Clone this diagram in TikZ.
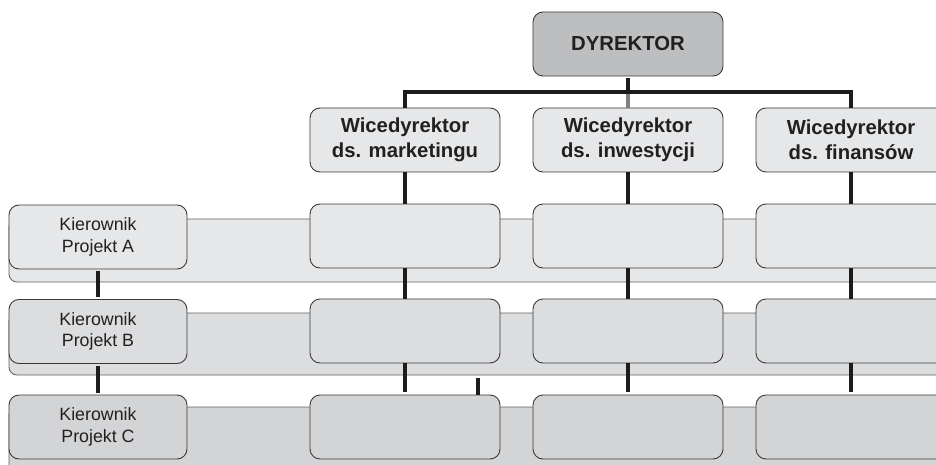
\documentclass[tikz,border=0pt]{standalone}
\usepackage{fontspec}
\setmainfont{Liberation Sans}
\definecolor{txt}{HTML}{231F20}
\definecolor{bord}{HTML}{3A3A3A}
\definecolor{dirfill}{HTML}{BDBEC0}
\definecolor{rowa}{HTML}{E6E7E8}
\definecolor{rowb}{HTML}{DCDDDF}
\definecolor{rowc}{HTML}{D3D4D6}
\definecolor{conn}{HTML}{1C1C1C}
\begin{document}
\begin{tikzpicture}[x=1pt,y=-1pt,
  box/.style={draw=bord,line width=0.9pt,rounded corners=10pt,minimum width=190pt,minimum height=64pt,inner sep=0pt,text=txt,align=center},
  kbox/.style={box,minimum width=178pt,font=\fontsize{17.8}{21.5}\selectfont},
  vbox/.style={box,fill=rowa,font=\fontsize{20.3}{25}\selectfont\bfseries},
  band/.style={draw=bord!80,line width=0.8pt,rounded corners=8pt},
  link/.style={draw=conn,line width=3.6pt},
  glink/.style={draw=gray,line width=3.6pt}]
\clip (0,0) rectangle (936,465);
\fill[white] (0,0) rectangle (936,465);
% bands
\path[band,fill=rowa] (9,219) rectangle (990,282);
\path[band,fill=rowb] (9,313) rectangle (990,375);
\path[band,fill=rowc] (9,407) rectangle (990,520);
% top level
\node[box,fill=dirfill,font=\fontsize{20.3}{24}\selectfont\bfseries] (d) at (628,44) {DYREKTOR};
\node[vbox] (wm) at (405,140) {Wicedyrektor\\ds. marketingu};
\node[vbox] (wi) at (628,140) {Wicedyrektor\\ds. inwestycji};
\node[vbox] (wf) at (851,140) {Wicedyrektor\\ds. finansów};
% rows
\node[kbox,fill=rowa] (kA) at (98,237) {Kierownik\\Projekt A};
\node[kbox,fill=rowb] (kB) at (98,331.5) {Kierownik\\Projekt B};
\node[kbox,fill=rowc] (kC) at (98,427) {Kierownik\\Projekt C};
\node[box,fill=rowa] (mA) at (405,236) {};
\node[box,fill=rowa] (iA) at (628,236) {};
\node[box,fill=rowa] (fA) at (851,236) {};
\node[box,fill=rowb] (mB) at (405,331) {};
\node[box,fill=rowb] (iB) at (628,331) {};
\node[box,fill=rowb] (fB) at (851,331) {};
\node[box,fill=rowc] (mC) at (405,427) {};
\node[box,fill=rowc] (iC) at (628,427) {};
\node[box,fill=rowc] (fC) at (851,427) {};
% director bus
\coordinate (bus) at (628,92);
\draw[link,shorten <=2pt] (d.south) -- (bus);
\draw[glink] (bus) -- (wi.north);
\draw[link] (wm.north) |- (bus) -| (wf.north);
% column connectors
\foreach \c in {m,i,f}{
  \draw[link] (w\c.south) -- (\c A.north);
  \draw[link] (\c A.south) -- (\c B.north);
  \draw[link,shorten >=3pt] (\c B.south) -- (\c C.north);
}
\draw[link,shorten <=2pt,shorten >=2pt] (kA.south) -- (kB.north);
\draw[link,shorten <=2pt,shorten >=2pt] (kB.south) -- (kC.north);
\coordinate (tick) at (478,378);
\draw[link] (tick) -- (tick |- mC.north);
\end{tikzpicture}
\end{document}
